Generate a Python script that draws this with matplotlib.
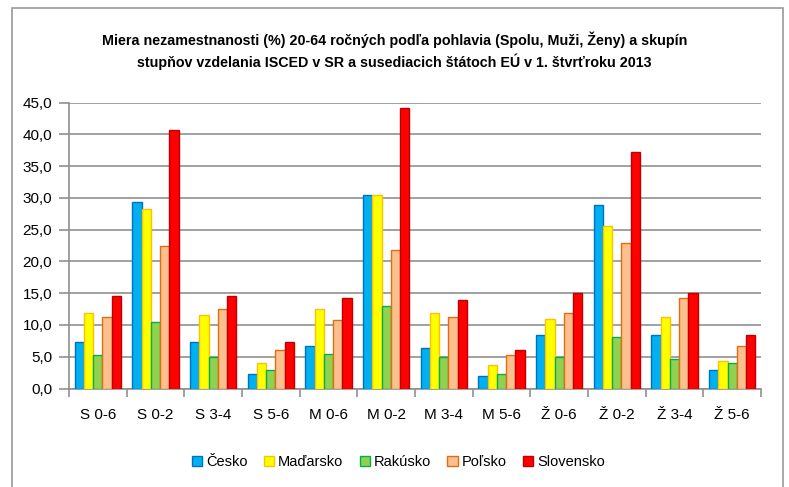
import numpy as np
import matplotlib
matplotlib.use("Agg")
import matplotlib.pyplot as plt
from matplotlib.patches import Rectangle

plt.rcParams["font.family"] = ["Liberation Sans", "DejaVu Sans"]

categories = ["S 0-6", "S 0-2", "S 3-4", "S 5-6",
              "M 0-6", "M 0-2", "M 3-4", "M 5-6",
              "Ž 0-6", "Ž 0-2", "Ž 3-4", "Ž 5-6"]

cesko = [7.3, 29.4, 7.3, 2.3, 6.7, 30.5, 6.4, 2.0, 8.4, 28.8, 8.4, 2.9]
madarsko = [11.9, 28.2, 11.6, 4.0, 12.5, 30.5, 11.9, 3.7, 11.0, 25.6, 11.3, 4.4]
rakusko = [5.2, 10.5, 4.9, 2.9, 5.5, 13.0, 4.9, 2.3, 4.9, 8.1, 4.7, 4.0]
polsko = [11.3, 22.4, 12.5, 6.1, 10.8, 21.8, 11.3, 5.2, 11.9, 22.9, 14.2, 6.7]
slovensko = [14.6, 40.7, 14.6, 7.3, 14.3, 44.2, 14.0, 6.1, 15.1, 37.2, 15.1, 8.4]

series = [("Česko", cesko, "#00B0F0", "#0070C0"),
          ("Maďarsko", madarsko, "#FFFF00", "#FFC000"),
          ("Rakúsko", rakusko, "#92D050", "#00B050"),
          ("Poľsko", polsko, "#FAC090", "#E46C0A"),
          ("Slovensko", slovensko, "#FF0000", "#C00000")]

fig = plt.figure(figsize=(7.89, 4.87), dpi=100)
ax = fig.add_axes([69 / 789, 1 - 388.5 / 487, (761 - 69) / 789, (388.5 - 102.5) / 487])

# outer chart frame
fig.patches.append(Rectangle((12 / 789, -0.05), (783 - 12) / 789, 1.05 - 8 / 487,
                             transform=fig.transFigure, fill=False,
                             edgecolor="#9a9a9a", linewidth=1.2))

x = np.arange(len(categories))
w = 0.16
for i, (name, vals, face, edge) in enumerate(series):
    ax.bar(x + (i - 2) * w, vals, w, color=face, edgecolor=edge,
           linewidth=1.0, label=name, zorder=3)

ax.set_xlim(-0.5, len(categories) - 0.5)
ax.set_ylim(0, 45)
ax.set_yticks(np.arange(0, 46, 5))
ax.set_yticklabels([f"{v:.1f}".replace(".", ",") for v in np.arange(0, 46, 5)])
ax.yaxis.grid(True, color="#909090", linewidth=1.2, zorder=0)
ax.set_axisbelow(True)

ax.set_xticks(x)
ax.set_xticklabels(categories)
ax.set_xticks(np.arange(-0.5, len(categories), 1), minor=True)
ax.tick_params(axis="x", which="major", length=0, pad=14, labelsize=11)
ax.tick_params(axis="x", which="minor", length=6, color="#909090", width=1.2)
ax.tick_params(axis="y", length=7, color="#909090", width=1.2, pad=5, labelsize=11)

for s in ["top", "right"]:
    ax.spines[s].set_visible(False)
for s in ["left", "bottom"]:
    ax.spines[s].set_color("#909090")
    ax.spines[s].set_linewidth(1.2)

fig.text(0.5, 1 - 51 / 487,
         "Miera nezamestnanosti (%) 20-64 ročných podľa pohlavia (Spolu, Muži, Ženy) a skupín\n"
         "stupňov vzdelania ISCED v SR a susediacich štátoch EÚ v 1. štvrťroku 2013",
         ha="center", va="center", fontsize=10.3, fontweight="bold", linespacing=1.42)

ax.legend(loc="center", bbox_to_anchor=(0.505, 1 - 462 / 487), bbox_transform=fig.transFigure,
          ncol=5, frameon=False, fontsize=10.5, handlelength=0.7, handleheight=0.7,
          handletextpad=0.3, columnspacing=1.1)

fig.savefig("out.png", dpi=100)
plt.close(fig)
